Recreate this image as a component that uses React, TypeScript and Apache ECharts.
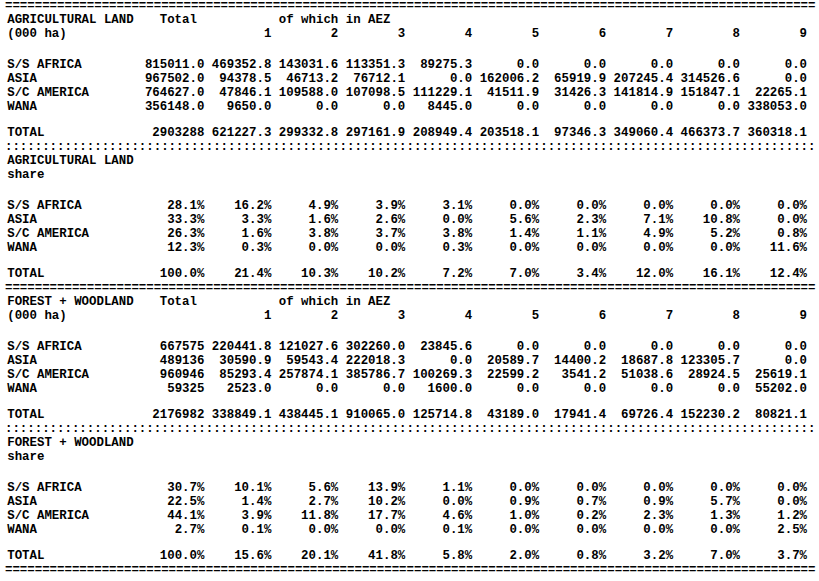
import React, { useEffect, useRef } from "react";
import * as echarts from "echarts";

// ---------- data ----------
const regions = ["S/S AFRICA", "ASIA", "S/C AMERICA", "WANA"];
const aezLabels = ["1", "2", "3", "4", "5", "6", "7", "8", "9"];

// Agricultural land (000 ha): [Total, AEZ1..AEZ9]
const agriSSAfrica = [815011.0, 469352.8, 143031.6, 113351.3, 89275.3, 0.0, 0.0, 0.0, 0.0, 0.0];
const agriAsia = [967502.0, 94378.5, 46713.2, 76712.1, 0.0, 162006.2, 65919.9, 207245.4, 314526.6, 0.0];
const agriSCAmerica = [764627.0, 47846.1, 109588.0, 107098.5, 111229.1, 41511.9, 31426.3, 141814.9, 151847.1, 22265.1];
const agriWana = [356148.0, 9650.0, 0.0, 0.0, 8445.0, 0.0, 0.0, 0.0, 0.0, 338053.0];
const agriTotal = [2903288, 621227.3, 299332.8, 297161.9, 208949.4, 203518.1, 97346.3, 349060.4, 466373.7, 360318.1];

// Agricultural land share (%)
const agriShareSSAfrica = [28.1, 16.2, 4.9, 3.9, 3.1, 0.0, 0.0, 0.0, 0.0, 0.0];
const agriShareAsia = [33.3, 3.3, 1.6, 2.6, 0.0, 5.6, 2.3, 7.1, 10.8, 0.0];
const agriShareSCAmerica = [26.3, 1.6, 3.8, 3.7, 3.8, 1.4, 1.1, 4.9, 5.2, 0.8];
const agriShareWana = [12.3, 0.3, 0.0, 0.0, 0.3, 0.0, 0.0, 0.0, 0.0, 11.6];
const agriShareTotal = [100.0, 21.4, 10.3, 10.2, 7.2, 7.0, 3.4, 12.0, 16.1, 12.4];

// Forest + woodland (000 ha)
const forestSSAfrica = [667575, 220441.8, 121027.6, 302260.0, 23845.6, 0.0, 0.0, 0.0, 0.0, 0.0];
const forestAsia = [489136, 30590.9, 59543.4, 222018.3, 0.0, 20589.7, 14400.2, 18687.8, 123305.7, 0.0];
const forestSCAmerica = [960946, 85293.4, 257874.1, 385786.7, 100269.3, 22599.2, 3541.2, 51038.6, 28924.5, 25619.1];
const forestWana = [59325, 2523.0, 0.0, 0.0, 1600.0, 0.0, 0.0, 0.0, 0.0, 55202.0];
const forestTotal = [2176982, 338849.1, 438445.1, 910065.0, 125714.8, 43189.0, 17941.4, 69726.4, 152230.2, 80821.1];

// Forest + woodland share (%)
const forestShareSSAfrica = [30.7, 10.1, 5.6, 13.9, 1.1, 0.0, 0.0, 0.0, 0.0, 0.0];
const forestShareAsia = [22.5, 1.4, 2.7, 10.2, 0.0, 0.9, 0.7, 0.9, 5.7, 0.0];
const forestShareSCAmerica = [44.1, 3.9, 11.8, 17.7, 4.6, 1.0, 0.2, 2.3, 1.3, 1.2];
const forestShareWana = [2.7, 0.1, 0.0, 0.0, 0.1, 0.0, 0.0, 0.0, 0.0, 2.5];
const forestShareTotal = [100.0, 15.6, 20.1, 41.8, 5.8, 2.0, 0.8, 3.2, 7.0, 3.7];

// ---------- layout (character grid of a line-printer listing) ----------
const CHARS = 108;
const LINES = 40;
const PITCH = 7.44;
const X0 = 3.5;
const LABEL_COL = 0.5;
const FIRST_COL_END = 27;
const COL_W = 9;
const ROW_SHIFT = 0.15;
const FONT = "bold 12.4px 'Liberation Mono', 'DejaVu Sans Mono', monospace";

type Cell = { text: string; x: number; line: number; align: "left" | "right" };

function fmtNum(v: number, integer: boolean) {
  return integer ? String(Math.round(v)) : v.toFixed(1);
}

function buildCells(): Cell[] {
  const cells: Cell[] = [];
  const sep = (line: number, ch: string) =>
    cells.push({ text: ch.repeat(109), x: 0.2, line, align: "left" });

  const blocks = [
    {
      title: "AGRICULTURAL LAND",
      sub: "(000 ha)",
      header: true,
      rows: [agriSSAfrica, agriAsia, agriSCAmerica, agriWana],
      total: agriTotal,
      pct: false,
      intTotalCol: (r: number) => r === 4,
    },
    {
      title: "AGRICULTURAL LAND",
      sub: "share",
      header: false,
      rows: [agriShareSSAfrica, agriShareAsia, agriShareSCAmerica, agriShareWana],
      total: agriShareTotal,
      pct: true,
      intTotalCol: (_r: number) => false,
    },
    {
      title: "FOREST + WOODLAND",
      sub: "(000 ha)",
      header: true,
      rows: [forestSSAfrica, forestAsia, forestSCAmerica, forestWana],
      total: forestTotal,
      pct: false,
      intTotalCol: (_r: number) => true,
    },
    {
      title: "FOREST + WOODLAND",
      sub: "share",
      header: false,
      rows: [forestShareSSAfrica, forestShareAsia, forestShareSCAmerica, forestShareWana],
      total: forestShareTotal,
      pct: true,
      intTotalCol: (_r: number) => false,
    },
  ];

  sep(0, "=");
  blocks.forEach((b, bi) => {
    const base = bi * 10;
    cells.push({ text: b.title, x: LABEL_COL, line: base + 1, align: "left" });
    cells.push({ text: b.sub, x: LABEL_COL, line: base + 2, align: "left" });
    if (b.header) {
      cells.push({ text: "Total", x: FIRST_COL_END - 1, line: base + 1, align: "right" });
      cells.push({ text: "of which in AEZ", x: 37, line: base + 1, align: "left" });
      aezLabels.forEach((l, k) =>
        cells.push({ text: l, x: FIRST_COL_END + COL_W * (k + 1), line: base + 2, align: "right" })
      );
    }
    const allRows = [...b.rows, b.total];
    const names = [...regions, "TOTAL"];
    allRows.forEach((vals, r) => {
      const line = r < 4 ? base + 4 + r + ROW_SHIFT : base + 9;
      cells.push({ text: names[r], x: LABEL_COL, line, align: "left" });
      vals.forEach((v, c) => {
        const text = b.pct ? v.toFixed(1) + "%" : fmtNum(v, c === 0 && b.intTotalCol(r));
        cells.push({ text, x: FIRST_COL_END + COL_W * c, line, align: "right" });
      });
    });
    sep(base + 10, bi % 2 === 0 ? ":" : "=");
  });
  return cells;
}

export default function App() {
  const ref = useRef<HTMLDivElement>(null);
  useEffect(() => {
    if (!ref.current) return;
    const chart = echarts.init(ref.current, undefined, { renderer: "svg" });
    const cells = buildCells();
    const gridRight = 819 - X0 - CHARS * PITCH;
    chart.setOption({
      animation: false,
      backgroundColor: "#ffffff",
      grid: { left: X0, right: gridRight, top: 6, bottom: 11 },
      xAxis: { type: "value", min: 0, max: CHARS, show: false },
      yAxis: { type: "value", min: 0, max: LINES, inverse: true, show: false },
      series: [
        {
          type: "custom",
          clip: false,
          silent: true,
          data: cells.map((c) => [c.x, c.line]),
          encode: { x: 0, y: 1 },
          renderItem: (params: any, api: any) => {
            const cell = cells[params.dataIndex];
            const p = api.coord([api.value(0), api.value(1)]);
            return {
              type: "text",
              x: p[0],
              y: p[1],
              style: {
                text: cell.text,
                font: FONT,
                fill: "#000000",
                align: cell.align,
                verticalAlign: "middle",
              },
            };
          },
        },
      ],
    });
    return () => chart.dispose();
  }, []);
  return (
    <div
      ref={ref}
      style={{ position: "absolute", left: 0, top: 0, width: 819, height: 581, background: "#fff" }}
    />
  );
}
